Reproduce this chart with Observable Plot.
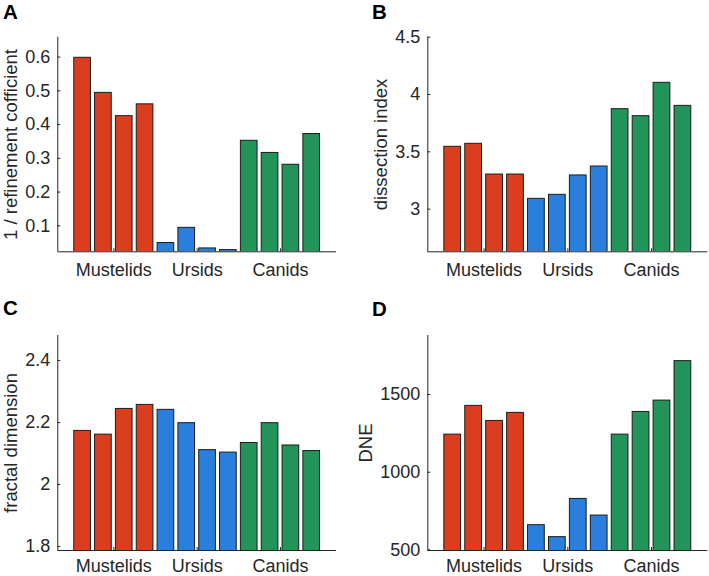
<!DOCTYPE html>
<html>
<head>
<meta charset="utf-8">
<script src="https://cdn.jsdelivr.net/npm/d3@7"></script>
<script src="https://cdn.jsdelivr.net/npm/@observablehq/plot@0.6"></script>
<style>
  body { margin: 0; background: #fff; }
  #wrap { position: relative; width: 709px; height: 576px; overflow: hidden; background: #fff; }
  .panel { position: absolute; }
  .letter { position: absolute; font-family: "Liberation Sans", Arial, sans-serif; font-weight: bold; font-size: 20.5px; line-height: 20px; color: #000; }
</style>
</head>
<body>
<div id="wrap"></div>
<script>
// ---- data ----
const groups = ["Mustelids", "Ursids", "Canids"];
const groupColors = ["#db3e1f", "#2a7fdc", "#22945a"];
const barGroup = ["Mustelids","Mustelids","Mustelids","Mustelids","Ursids","Ursids","Ursids","Ursids","Canids","Canids","Canids","Canids"];
const groupLabelPos = [2.5, 6.5, 10.5];

const invRefinement = [0.598, 0.494, 0.425, 0.460, 0.049, 0.094, 0.033, 0.028, 0.352, 0.316, 0.281, 0.372];
const dissection = [3.544, 3.570, 3.302, 3.302, 3.090, 3.125, 3.294, 3.372, 3.872, 3.811, 4.102, 3.901];
const fractal = [2.173, 2.161, 2.244, 2.257, 2.241, 2.198, 2.111, 2.103, 2.134, 2.198, 2.126, 2.108];
const dne = [1242, 1427, 1330, 1382, 659, 582, 828, 721, 1242, 1388, 1461, 1715];

const ticksA = [0.1, 0.2, 0.3, 0.4, 0.5, 0.6];
const ticksB = [3, 3.5, 4, 4.5];
const ticksC = [1.8, 2, 2.2, 2.4];
const ticksD = [500, 1000, 1500];

const domainA = [0.023, 0.659];
const domainB = [2.628, 4.5];
const domainC = [1.787, 2.481];
const domainD = [496, 1880];
const xDomain = [-0.19, 13.19];

const FONT = '"Liberation Sans", Arial, Helvetica, sans-serif';
const INK = "#262626";

function panel({values, yDomain, yTicks, yLabel, labelDx, xPad, left, top, width, height, margins, letter, letterPos}) {
  const data = values.map((v, i) => ({i: i + 1, v, g: barGroup[i]}));
  const plotW = width - margins.left - margins.right;
  const plotH = height - margins.top - margins.bottom;
  const chart = Plot.plot({
    width, height,
    marginLeft: margins.left, marginRight: margins.right,
    marginTop: margins.top, marginBottom: margins.bottom,
    style: {fontFamily: FONT, fontSize: "18px", color: INK, background: "white"},
    x: {domain: xDomain, axis: null},
    y: {domain: yDomain, axis: null},
    color: {domain: groups, range: groupColors},
    marks: [
      Plot.rectY(data, {x1: d => d.i - 0.4, x2: d => d.i + 0.4, y: "v", fill: "g", stroke: "#1c1c1c", strokeWidth: 1, clip: true}),
      Plot.tickY(yTicks, {y: d => d, stroke: INK, strokeWidth: 1, insetRight: plotW - 3}),
      Plot.tickX(groupLabelPos, {x: d => d, stroke: INK, strokeWidth: 1, insetTop: plotH - 3}),
      Plot.ruleX([xDomain[0]], {x: d => d, stroke: INK, strokeWidth: 1}),
      Plot.ruleY([yDomain[0]], {y: d => d, stroke: INK, strokeWidth: 1}),
      Plot.axisY({ticks: yTicks, tickSize: 0, tickPadding: 7.5, tickFormat: d => String(d), fontSize: 18, fill: INK, label: null}),
      Plot.axisX({ticks: groupLabelPos, tickSize: 0, tickPadding: xPad, tickFormat: (d, k) => groups[k], fontSize: 18, fill: INK, label: null}),
      Plot.text([yLabel], {text: d => d, frameAnchor: "left", textAnchor: "middle", lineAnchor: "middle", rotate: -90, dx: labelDx, fontSize: 18.5, fill: INK})
    ]
  });
  const div = document.createElement("div");
  div.className = "panel";
  div.style.left = left + "px";
  div.style.top = top + "px";
  div.appendChild(chart);
  document.getElementById("wrap").appendChild(div);
  const L = document.createElement("div");
  L.className = "letter";
  L.textContent = letter;
  L.style.left = letterPos[0] + "px";
  L.style.top = letterPos[1] + "px";
  document.getElementById("wrap").appendChild(L);
}

panel({values: invRefinement, yDomain: domainA, yTicks: ticksA, yLabel: "1 / refinement cofficient", labelDx: -47, xPad: 11,
  left: 0, top: 0, width: 354, height: 288, margins: {left: 57.3, right: 18, top: 36.7, bottom: 36.7}, letter: "A", letterPos: [3, 2]});
panel({values: dissection, yDomain: domainB, yTicks: ticksB, yLabel: "dissection index", labelDx: -46.6, xPad: 11,
  left: 354, top: 0, width: 355, height: 288, margins: {left: 73.3, right: 1.7, top: 36.7, bottom: 36.7}, letter: "B", letterPos: [372, 2]});
panel({values: fractal, yDomain: domainC, yTicks: ticksC, yLabel: "fractal dimension", labelDx: -47, xPad: 9,
  left: 0, top: 288, width: 354, height: 288, margins: {left: 57.3, right: 18, top: 47, bottom: 26}, letter: "C", letterPos: [3, 298]});
panel({values: dne, yDomain: domainD, yTicks: ticksD, yLabel: "DNE", labelDx: -62, xPad: 9,
  left: 354, top: 288, width: 355, height: 288, margins: {left: 73.3, right: 1.7, top: 47, bottom: 26}, letter: "D", letterPos: [372, 299]});
</script>
</body>
</html>
